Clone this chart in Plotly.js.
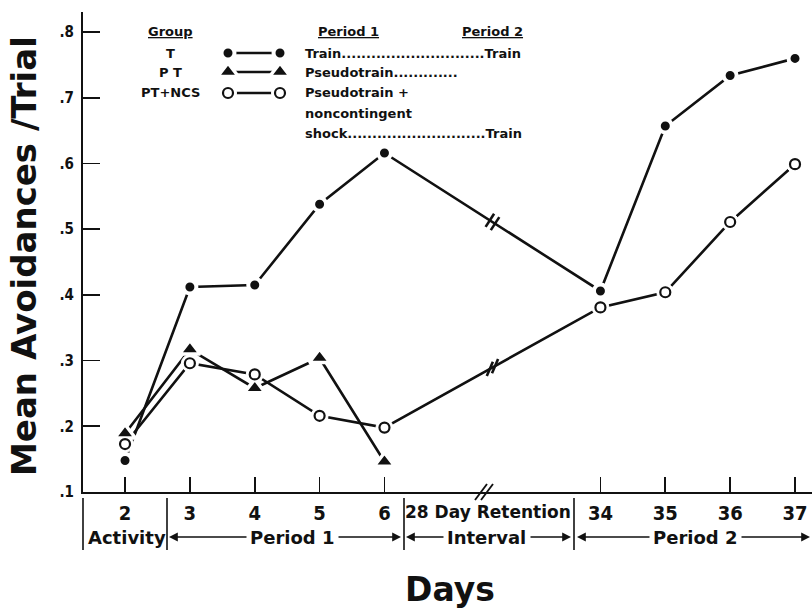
<!DOCTYPE html>
<html><head><meta charset="utf-8">
<script src="https://cdn.plot.ly/plotly-3.0.1.min.js"></script>
<style>html,body{margin:0;padding:0;background:#fff}</style>
</head><body><div id="chart" style="width:812px;height:612px"></div>
<script>
// ---- data ----
const days = ['2','3','4','5','6','34','35','36','37'];
const dayPos = [0, 1, 2, 3, 4, 7.33, 8.33, 9.33, 10.33];   // axis position of each day (retention interval compressed)
const groupT   = [0.148, 0.412, 0.415, 0.538, 0.616, 0.406, 0.657, 0.734, 0.760];
const groupPT  = [0.189, 0.317, 0.258, 0.304, 0.146, null, null, null, null];
const groupNCS = [0.173, 0.296, 0.279, 0.216, 0.198, 0.381, 0.404, 0.511, 0.599];
const yTickVals = [0.1, 0.2, 0.3, 0.4, 0.5, 0.6, 0.7, 0.8];
const yTickText = ['.1', '.2', '.3', '.4', '.5', '.6', '.7', '.8'];

// ---- layout helpers (pixel -> paper) ----
const L = 83, R = 812, T0 = 12, B0 = 492;
const PX = x => (x - L) / (R - L);
const PY = y => (B0 - y) / (B0 - T0);
const INK = '#111';
const NARROW = 'Liberation Sans Narrow, DejaVu Sans Condensed, Arial Narrow, sans-serif';
const DJ = 'DejaVu Sans, Arial, sans-serif';

const lineStyle = {color: INK, width: 2.6};
const legY = [53, 72, 93];
const traces = [];
// lines
[groupT, groupPT, groupNCS].forEach(s => traces.push({x: dayPos, y: s, mode: 'lines', line: lineStyle, hoverinfo: 'skip'}));
legY.forEach(y => traces.push({x: [228, 280], y: [y, y], xaxis: 'x2', yaxis: 'y2', mode: 'lines', line: lineStyle, hoverinfo: 'skip'}));
// white halos under open circles (gap between line and marker)
const halo = () => ({symbol: 'circle', color: 'rgb(255,255,255)', size: 17, opacity: 1, line: {color: 'rgb(255,255,255)', width: 1}});
traces.push({x: dayPos, y: groupNCS, mode: 'markers', marker: halo(), hoverinfo: 'skip'});
traces.push({x: [228, 280], y: [93, 93], xaxis: 'x2', yaxis: 'y2', mode: 'markers', marker: halo(), hoverinfo: 'skip'});
// markers (filled ones carry a white ring that opens a gap in the lines)
const mT = () => ({symbol: 'circle', size: 13, color: INK, line: {color: '#fff', width: 4}});
const mPT = () => ({symbol: 'triangle-up', size: 18, color: INK, line: {color: '#fff', width: 3.5}});
const mNCS = () => ({symbol: 'circle', size: 10, color: '#fff', line: {color: INK, width: 2.2}});
traces.push({x: dayPos, y: groupT, mode: 'markers', marker: mT(), name: 'T'});
traces.push({x: dayPos, y: groupPT, mode: 'markers', marker: mPT(), name: 'PT'});
traces.push({x: dayPos, y: groupNCS, mode: 'markers', marker: mNCS(), name: 'PT+NCS'});
[mT(), mPT(), mNCS()].forEach((m, i) => traces.push({x: [228, 280], y: [legY[i], legY[i]], xaxis: 'x2', yaxis: 'y2', mode: 'markers', marker: m, hoverinfo: 'skip'}));
// break marks "//" on the lines crossing the retention interval
function breakMarks(series, angle) {
  const a = dayPos[4], b = dayPos[5], ya = series[4], yb = series[5];
  const ts = [0.488, 0.512];
  return {x: ts.map(t => a + (b - a) * t), y: ts.map(t => ya + (yb - ya) * t), mode: 'markers', hoverinfo: 'skip',
    marker: {symbol: 'line-ne', size: 11, angle: angle, color: INK, line: {color: INK, width: 2.6}}};
}
traces.push(breakMarks(groupT, -12));
traces.push(breakMarks(groupNCS, -22));

// ---- annotations ----
const ann = [];
function txt(x, y, text, opt) {
  ann.push(Object.assign({xref: 'paper', yref: 'paper', x: PX(x), y: PY(y), text: text, showarrow: false,
    xanchor: 'center', yanchor: 'middle', font: {family: DJ, size: 18, color: INK, weight: 'bold'}}, opt || {}));
}
function arrow(tip, tail, y) {
  ann.push({xref: 'paper', yref: 'paper', x: PX(tip), y: PY(y), ax: tail - tip, ay: 0, axref: 'pixel', ayref: 'pixel',
    text: '', showarrow: true, arrowhead: 2, arrowsize: 1.1, arrowwidth: 1.6, arrowcolor: INK, standoff: 0, startstandoff: 0});
}
// axis titles
txt(24, 256, 'Mean Avoidances /Trial', {textangle: -90, font: {family: DJ, size: 34, color: INK, weight: 'bold'}});
txt(450, 589, 'Days', {font: {family: DJ, size: 33, color: INK, weight: 'bold'}});
// x label rows
txt(488, 512, '28 Day Retention', {font: {family: DJ, size: 17, color: INK, weight: 'bold'}});
txt(127, 537, 'Activity');
txt(292, 537, 'Period 1');
txt(487, 537, 'Interval');
txt(695, 537, 'Period 2');
arrow(169, 248, 537); arrow(401, 337, 537);
arrow(406, 445, 537); arrow(571, 529, 537);
arrow(577, 651, 537); arrow(810, 740, 537);
// legend text
const LF = {family: DJ, size: 13, color: INK, weight: 'bold'};
txt(170, 32, '<u>Group</u>', {font: LF});
txt(170, 53, 'T', {font: LF});
txt(170, 72, 'P T', {font: LF});
txt(170, 93, 'PT+NCS', {font: LF});
txt(348, 32, '<u>Period 1</u>', {font: LF});
txt(492, 32, '<u>Period 2</u>', {font: LF});
const left = {xanchor: 'left', font: LF};
txt(303, 53, 'Train.............................Train', left);
txt(303, 72, 'Pseudotrain.............', left);
txt(303, 93, 'Pseudotrain +', left);
txt(303, 113, 'noncontingent', left);
txt(303, 133, 'shock............................Train', left);

// ---- shapes ----
const shapes = [];
[83, 167, 404, 574].forEach(x => shapes.push({type: 'line', xref: 'paper', yref: 'paper', x0: PX(x), x1: PX(x), y0: PY(498), y1: PY(550), line: {color: INK, width: 1.6}}));
[0, 6].forEach(d => shapes.push({type: 'line', xref: 'paper', yref: 'paper', x0: PX(475 + d), y0: PY(500), x1: PX(487 + d), y1: PY(484), line: {color: INK, width: 1.8}}));

const layout = {
  width: 812, height: 612, margin: {l: L, r: 812 - R, t: T0, b: 612 - B0},
  paper_bgcolor: '#fff', plot_bgcolor: '#fff', showlegend: false,
  font: {family: DJ, color: INK},
  xaxis: {range: [-0.648, 10.592], showline: true, linewidth: 2, linecolor: INK, ticks: 'inside', ticklen: 15, tickwidth: 1.6, tickcolor: INK,
    tickvals: dayPos, ticktext: days, tickfont: {family: NARROW, size: 20, color: INK, weight: 'bold'},
    showgrid: false, zeroline: false, fixedrange: true, ticklabelstandoff: 2},
  yaxis: {range: [0.1, 0.8306], showline: true, linewidth: 2, linecolor: INK, ticks: 'inside', ticklen: 17, tickwidth: 1.6, tickcolor: INK,
    tickvals: yTickVals, ticktext: yTickText, tickfont: {family: NARROW, size: 15, color: INK, weight: 'bold'},
    showgrid: false, zeroline: false, fixedrange: true, ticklabelstandoff: 4},
  xaxis2: {overlaying: 'x', anchor: 'y2', range: [L, R], visible: false, fixedrange: true},
  yaxis2: {overlaying: 'y', anchor: 'x2', range: [B0, T0], visible: false, fixedrange: true},
  annotations: ann, shapes: shapes
};
Plotly.newPlot('chart', traces, layout, {staticPlot: true, displayModeBar: false});
</script></body></html>
